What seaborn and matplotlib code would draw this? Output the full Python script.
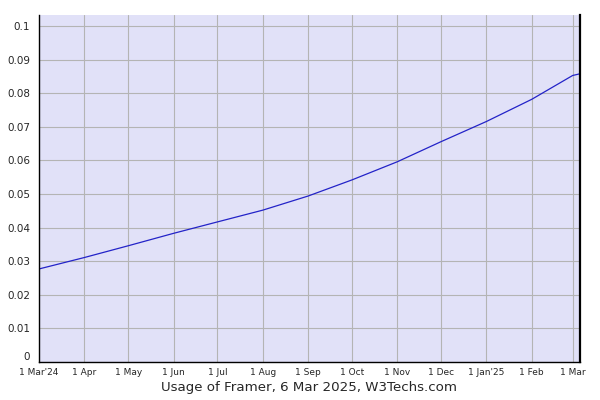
import matplotlib
matplotlib.use("Agg")
import matplotlib.pyplot as plt
import matplotlib.transforms as mtransforms
import seaborn as sns
import pandas as pd

dates = ["2024-03-01", "2024-04-01", "2024-05-01", "2024-06-01", "2024-07-01",
         "2024-08-01", "2024-09-01", "2024-10-01", "2024-11-01", "2024-12-01",
         "2025-01-01", "2025-02-01", "2025-03-01", "2025-03-06"]
usage = [0.0277, 0.0311, 0.0346, 0.0383, 0.0417, 0.0452, 0.0494, 0.0542,
         0.0596, 0.0656, 0.0716, 0.0782, 0.0853, 0.0858]

tick_dates = ["2024-03-01", "2024-04-01", "2024-05-01", "2024-06-01", "2024-07-01",
              "2024-08-01", "2024-09-01", "2024-10-01", "2024-11-01", "2024-12-01",
              "2025-01-01", "2025-02-01", "2025-03-01"]
tick_labels = ["1 Mar'24", "1 Apr", "1 May", "1 Jun", "1 Jul", "1 Aug", "1 Sep",
               "1 Oct", "1 Nov", "1 Dec", "1 Jan'25", "1 Feb", "1 Mar"]
y_ticks = [0, 0.01, 0.02, 0.03, 0.04, 0.05, 0.06, 0.07, 0.08, 0.09, 0.1]
y_labels = ["0", "0.01", "0.02", "0.03", "0.04", "0.05", "0.06", "0.07", "0.08", "0.09", "0.1"]
title = "Usage of Framer, 6 Mar 2025, W3Techs.com"

sns.set_style("white")
plt.rcParams["font.family"] = ["DejaVu Sans"]

df = pd.DataFrame({"date": pd.to_datetime(dates), "usage": usage})

fig = plt.figure(figsize=(6, 4), dpi=100)
ax = fig.add_axes([39/600, 38/400, 541/600, 347/400])
ax.set_facecolor("#E1E1F8")

sns.lineplot(data=df, x="date", y="usage", ax=ax, color="#2323C8", linewidth=0.9)

ax.set_xlim(pd.Timestamp("2024-03-01"), pd.Timestamp("2025-03-06"))
ax.set_ylim(0, 0.1033)
ax.set_xticks(pd.to_datetime(tick_dates))
ax.set_xticklabels(tick_labels, fontsize=6.5)
ax.set_yticks(y_ticks)
ax.set_yticklabels(y_labels, fontsize=7.5)

ax.grid(True, color="#B4B4B4", linewidth=0.8)
ax.set_axisbelow(True)

for s in ["left", "bottom"]:
    ax.spines[s].set_color("black")
    ax.spines[s].set_linewidth(1.0)
ax.spines["right"].set_color("black")
ax.spines["right"].set_linewidth(1.6)
ax.spines["top"].set_visible(False)

ax.tick_params(axis="y", direction="inout", length=7, width=1, color="black", pad=3)
ax.tick_params(axis="x", direction="inout", length=0, pad=4)
ax.set_xlabel(title, fontsize=9.6, labelpad=3)
ax.set_ylabel("")

# lift the "0" label slightly so it clears the first date label
zero_lbl = ax.get_yticklabels()[0]
zero_lbl.set_transform(zero_lbl.get_transform() +
                       mtransforms.ScaledTranslation(0, 4/72, fig.dpi_scale_trans))

fig.savefig("out.png", dpi=100)
